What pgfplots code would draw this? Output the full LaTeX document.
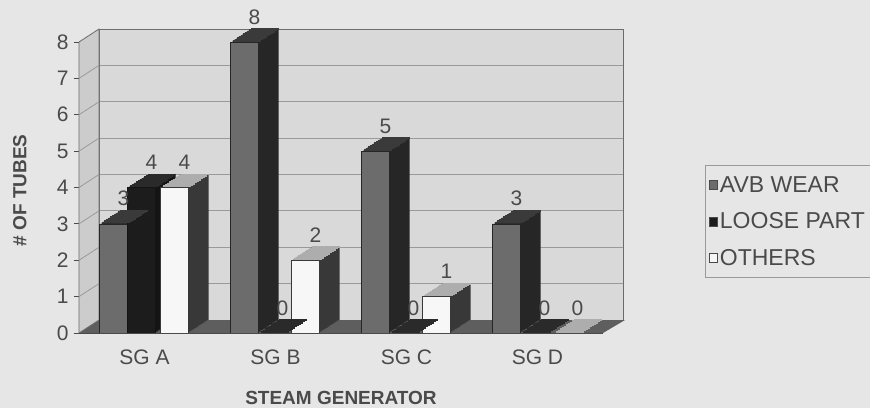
\documentclass[border=0pt]{standalone}
\usepackage{fontspec}
\setmainfont{Liberation Sans}
\usepackage{pgfplots}
\usepackage{pgfplotstable}
\pgfplotsset{compat=1.18}
\definecolor{bg}{HTML}{E6E6E6}
\definecolor{wall}{HTML}{D9D9D9}
\definecolor{lwall}{HTML}{CCCCCC}
\definecolor{floorc}{HTML}{5E5E5E}
\definecolor{gridc}{HTML}{9A9A9A}
\definecolor{txt}{HTML}{4A4A4A}
\definecolor{avbF}{HTML}{6C6C6C}
\definecolor{avbT}{HTML}{3A3A3A}
\definecolor{avbS}{HTML}{262626}
\definecolor{lpF}{HTML}{1C1C1C}
\definecolor{lpT}{HTML}{2A2A2A}
\definecolor{lpS}{HTML}{141414}
\definecolor{otF}{HTML}{F7F7F7}
\definecolor{otT}{HTML}{ADADAD}
\definecolor{otS}{HTML}{383838}

\pgfplotstableread{
x avb lp ot
0 3 4 4
1 8 0 2
2 5 0 1
3 3 0 0
}\data

\newcommand\series[5]{%
  \pgfplotsinvokeforeach{10,9,...,1}{%
    \addplot[ybar, bar width=28pt, bar shift=#2pt, fill=#5, draw=none,
      xshift=##1*2pt, yshift=##1*1.3pt, forget plot] table[x=x,y=#1]{\data};
    \addplot[only marks, mark=-, mark size=14pt, mark options={draw=#4, line width=1.8pt},
      xshift=#2pt+##1*2pt, yshift=##1*1.3pt, forget plot] table[x=x,y=#1]{\data};
  }
  \addplot[ybar, bar width=28pt, bar shift=#2pt, fill=#3, draw=#5, line width=0.5pt,
    nodes near coords, every node near coord/.append style={xshift=#2pt+10pt}] table[x=x,y=#1]{\data};
}

\begin{document}
\begin{tikzpicture}[x=1pt,y=1pt]
\clip[use as bounding box] (0,0) rectangle (870,408);
\fill[bg] (0,0) rectangle (870,408);
% back wall
\begin{axis}[at={(99pt,88pt)}, anchor=south west, scale only axis,
  width=524pt, height=291pt,
  xmin=-0.5, xmax=3.5, ymin=0, ymax=8, ytick={0,...,8}, xtick=\empty,
  yticklabels={}, major tick length=0pt, ymajorgrids,
  grid style={gridc, line width=0.8pt},
  axis background/.style={fill=wall},
  axis line style={gridc!70!black, line width=0.8pt}]
\end{axis}
% front
\begin{axis}[at={(79pt,75pt)}, anchor=south west, scale only axis,
  width=524pt, height=291pt,
  xmin=-0.5, xmax=3.5, ymin=0, ymax=8, ytick={0,...,8},
  xtick={0,1,2,3}, xticklabels={SG A,SG B,SG C,SG D},
  axis x line*=bottom, axis y line*=left, clip=false,
  axis line style={-, txt, line width=0.8pt},
  tick align=outside, major tick length=5pt,
  xtick style={draw=none}, ytick style={txt, line width=0.8pt},
  /pgf/number format/assume math mode=true,
  ticklabel style={font=\fontsize{21}{25}\selectfont, text=txt},
  xticklabel style={yshift=-8pt},
  yticklabel style={xshift=-2pt},
  xlabel={\textbf{STEAM GENERATOR}},
  ylabel={\textbf{\# OF TUBES}},
  label style={font=\fontsize{19}{23}\selectfont, text=txt},
  xlabel style={at={(axis description cs:0.5,-0.222)}, anchor=center},
  ylabel style={at={(axis description cs:-0.113,0.49)}, anchor=center},
  every node near coord/.append style={font=\fontsize{21}{25}\selectfont, text=txt,
    anchor=base, yshift=18pt},
  legend style={at={(axis description cs:1.1947,0.5773)}, anchor=north west,
    fill=bg, draw=gridc, line width=0.6pt, font=\fontsize{23}{27}\selectfont, text=txt,
    row sep=15pt, inner xsep=4pt, inner ysep=9pt},
  legend cell align=left,
  legend image code/.code={\draw[#1, draw=txt, line width=0.6pt] (3pt,-4.5pt) rectangle (11pt,4.5pt);},
  legend entries={AVB WEAR, LOOSE PART, OTHERS},
]
% floor
\fill[floorc] (rel axis cs:0,0) -- (rel axis cs:1,0) -- ++(22pt,13pt)
  -- ([shift={(20pt,13pt)}]rel axis cs:0,0) -- cycle;
% left wall
\filldraw[fill=lwall, draw=gridc!70!black, line width=0.8pt] (rel axis cs:0,0) -- ++(20pt,13pt)
  -- ([shift={(20pt,13pt)}]rel axis cs:0,1) -- (rel axis cs:0,1) -- cycle;
\pgfplotsinvokeforeach{1,...,7}{\draw[gridc, line width=0.8pt] (axis cs:-0.5,#1) -- ++(20pt,13pt);}
\series{avb}{-31}{avbF}{avbT}{avbS}
\series{lp}{-3}{lpF}{lpT}{lpS}
\series{ot}{30}{otF}{otT}{otS}
\draw[txt, line width=0.8pt] (rel axis cs:0,0) -- (rel axis cs:1,0);
\end{axis}
\end{tikzpicture}
\end{document}
